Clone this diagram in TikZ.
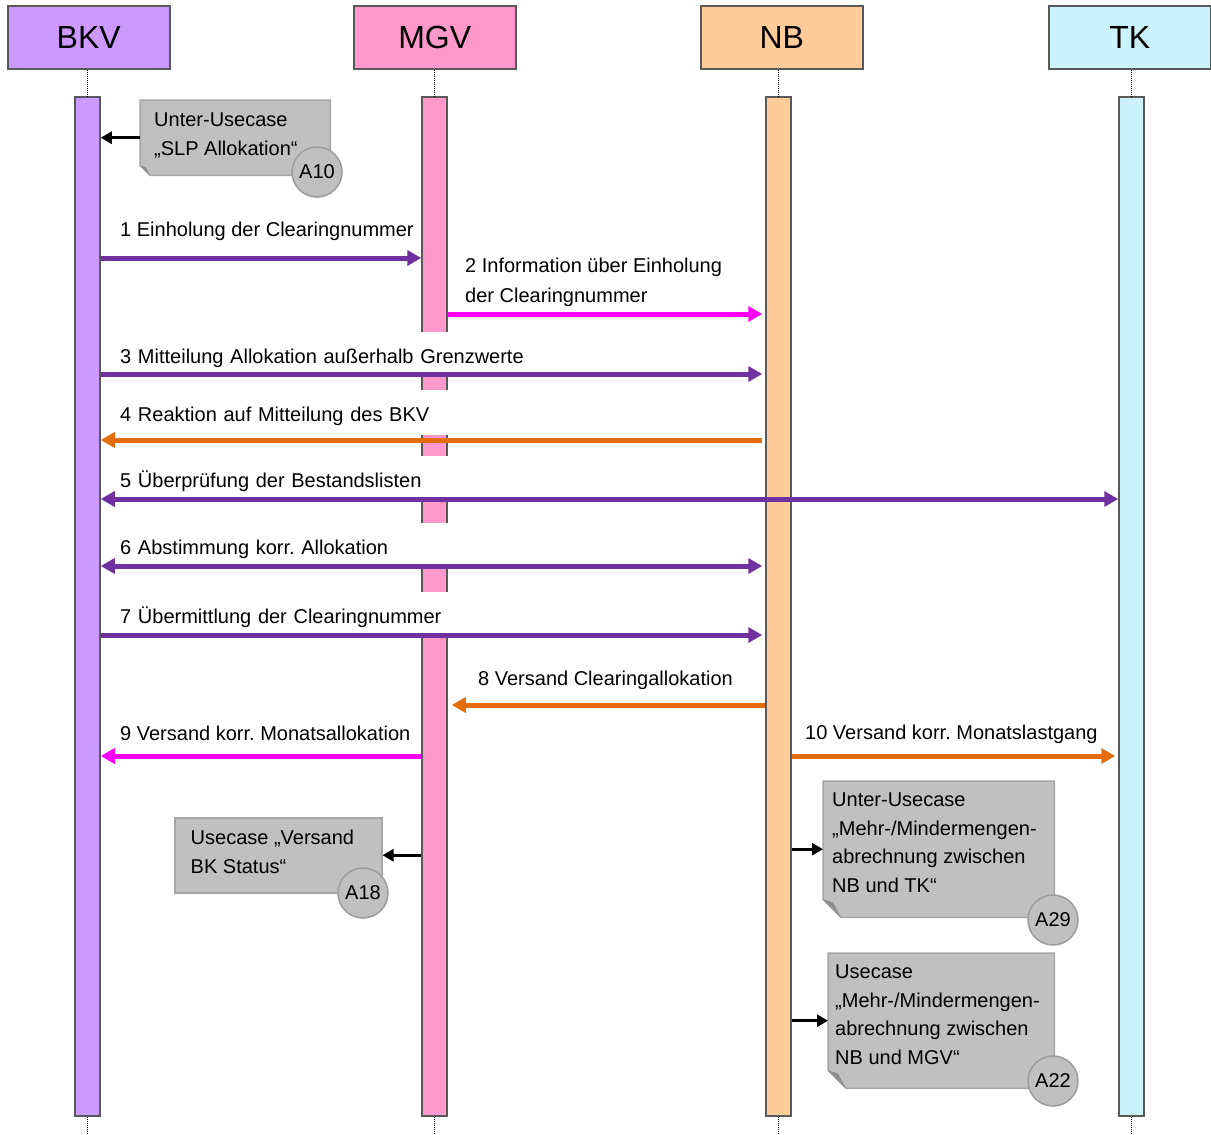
\documentclass[tikz,border=0pt]{standalone}
\usepackage{fontspec}
\setmainfont{Liberation Sans}
\frenchspacing
\usetikzlibrary{arrows.meta,calc}
\definecolor{bkvc}{HTML}{CC99FF}
\definecolor{mgvc}{HTML}{FF99CC}
\definecolor{nbc}{HTML}{FFCC99}
\definecolor{tkc}{HTML}{CCF3FC}
\definecolor{edgec}{HTML}{595959}
\definecolor{purp}{HTML}{7030A0}
\definecolor{magc}{HTML}{FF00FF}
\definecolor{orac}{HTML}{E46C0A}
\definecolor{boxfill}{HTML}{C0C0C0}
\definecolor{boxline}{HTML}{A6A6A6}
\definecolor{circline}{HTML}{9C9C9C}
\definecolor{folddark}{HTML}{8E8E8E}
\begin{document}
\begin{tikzpicture}[x=1pt,y=-1pt,
  headbox/.style={draw=edgec, line width=1.5pt, minimum width=162pt, minimum height=63pt, inner sep=0pt, anchor=north west, font=\fontsize{32}{38}\selectfont},
  actbar/.style={draw=edgec, line width=1.5pt, minimum width=25pt, minimum height=1019pt, inner sep=0pt, anchor=north},
  lifeline/.style={black, line width=1pt, dash pattern=on 1pt off 1pt},
  msg/.style={line width=5pt, -{Triangle[length=14pt,width=15pt]}},
  dmsg/.style={line width=5pt, {Triangle[length=14pt,width=15pt]}-{Triangle[length=14pt,width=15pt]}},
  lbl/.style={font=\fontsize{20}{30}\selectfont, anchor=base west, inner sep=0pt, align=left},
  wlbl/.style={fill=white, font=\fontsize{20}{24}\selectfont, anchor=west, text width=600pt, minimum height=45pt, text height=19pt, text depth=1pt, inner xsep=10pt, inner ysep=0pt, align=left},
  boxph/.style={minimum width=#1, inner sep=0pt, anchor=north west},
  ucbox/.style={fill=boxfill, draw=boxline, line width=1.5pt},
  boxtxt/.style={font=\fontsize{20}{28.5}\selectfont, anchor=base west, inner sep=0pt, align=left},
  circ/.style={circle, draw=circline, fill=boxfill, line width=1.5pt, minimum size=50pt, inner sep=0pt, font=\fontsize{20}{24}\selectfont},
  callarrow/.style={black, line width=3pt, -{Triangle[length=11pt,width=12pt]}}
]
\useasboundingbox (0,0) rectangle (1211,1135);

% heads
\node[headbox, fill=bkvc] (bkvhead) at (7,5) {BKV};
\node[headbox, fill=mgvc] (mgvhead) at (353,5) {MGV};
\node[headbox, fill=nbc] (nbhead) at (700,5) {NB};
\node[headbox, fill=tkc] (tkhead) at (1048,5) {TK};

% activation bars
\node[actbar, fill=bkvc] (bkvbar) at (87.5,96) {};
\node[actbar, fill=mgvc] (mgvbar) at (434.5,96) {};
\node[actbar, fill=nbc] (nbbar) at (778.5,96) {};
\node[actbar, fill=tkc] (tkbar) at (1131.5,96) {};

% lifelines
\foreach \n in {bkv,mgv,nb,tk}{
  \draw[lifeline] (\n bar.north |- \n head.south) -- (\n bar.north);
  \draw[lifeline] (\n bar.south) -- ++(0,20);
}

% labels
\node[lbl] (l1) at (120,236) {1 Einholung der Clearingnummer};
\node[lbl] (l2) at (465,302) {2 Information über Einholung\\der Clearingnummer};
\node[wlbl] (l3) at (110,354) {3 Mitteilung Allokation außerhalb Grenzwerte};
\node[wlbl] (l4) at (110,412) {4 Reaktion auf Mitteilung des BKV};
\node[wlbl] (l5) at (110,478) {5 Überprüfung der Bestandslisten};
\node[wlbl] (l6) at (110,545) {6 Abstimmung korr. Allokation};
\node[wlbl] (l7) at (110,614) {7 Übermittlung der Clearingnummer};
\node[lbl] (l8) at (478,685) {8 Versand Clearingallokation};
\node[lbl] (l9) at (120,740) {9 Versand korr. Monatsallokation};
\node[lbl] (l10) at (805,739) {10 Versand korr. Monatslastgang};

% messages
\draw[msg, purp] (bkvbar.east |- 0,258) -- (mgvbar.west |- 0,258);
\draw[msg, magc, shorten >=3pt] (mgvbar.east |- 0,314) -- (nbbar.west |- 0,314);
\draw[msg, purp, shorten >=3pt] (bkvbar.east |- 0,374) -- (nbbar.west |- 0,374);
\draw[msg, orac, shorten <=3pt] (nbbar.west |- 0,440) -- (bkvbar.east |- 0,440);
\draw[dmsg, purp] (bkvbar.east |- 0,499) -- (tkbar.west |- 0,499);
\draw[dmsg, purp, shorten >=3pt] (bkvbar.east |- 0,566) -- (nbbar.west |- 0,566);
\draw[msg, purp, shorten >=3pt] (bkvbar.east |- 0,635) -- (nbbar.west |- 0,635);
\draw[msg, orac, shorten >=4pt] (nbbar.west |- 0,705) -- (mgvbar.east |- 0,705);
\draw[msg, magc] (mgvbar.west |- 0,756) -- (bkvbar.east |- 0,756);
\draw[msg, orac, shorten >=3pt] (nbbar.east |- 0,756) -- (tkbar.west |- 0,756);

% A10 box
\node[boxph=190pt, minimum height=75pt] (a10) at (140,100) {};
\draw[ucbox] (a10.north west) -- (a10.north east) -- (a10.south east) -- ([xshift=10pt]a10.south west) -- ([yshift=10pt]a10.south west) -- cycle;
\fill[folddark] ([yshift=10pt]a10.south west) -- ([xshift=10pt]a10.south west) -- ([xshift=5.5pt,yshift=8.3pt]a10.south west) -- cycle;
\node[boxtxt] (a10t) at (154,155) {Unter-Usecase\\„SLP Allokation“};
\node[circ] (a10c) at (317,172) {A10};
\draw[callarrow] (a10.west) -- (bkvbar.east |- a10.west);

% A18 box
\node[boxph=207pt, minimum height=75pt, ucbox] (a18) at (174,817) {};
\node[boxtxt] (a18t) at (190.5,873) {Usecase „Versand\\BK Status“};
\node[circ] (a18c) at (363,893) {A18};
\draw[callarrow] (mgvbar.west |- a18.east) -- (a18.east);

% A29 box
\node[boxph=231pt, minimum height=136pt] (a29) at (823,781) {};
\draw[ucbox] (a29.north west) -- (a29.north east) -- (a29.south east) -- ([xshift=18pt]a29.south west) -- ([yshift=18pt]a29.south west) -- cycle;
\fill[folddark] ([yshift=18pt]a29.south west) -- ([xshift=18pt]a29.south west) -- ([xshift=10pt,yshift=15pt]a29.south west) -- cycle;
\node[boxtxt] (a29t) at (832,892) {Unter-Usecase\\„Mehr-/Mindermengen-\\abrechnung zwischen\\NB und TK“};
\node[circ] (a29c) at (1053,920) {A29};
\draw[callarrow] (nbbar.east |- a29.west) -- (a29.west);

% A22 box
\node[boxph=226pt, minimum height=135pt] (a22) at (828,953) {};
\draw[ucbox] (a22.north west) -- (a22.north east) -- (a22.south east) -- ([xshift=18pt]a22.south west) -- ([yshift=18pt]a22.south west) -- cycle;
\fill[folddark] ([yshift=18pt]a22.south west) -- ([xshift=18pt]a22.south west) -- ([xshift=10pt,yshift=15pt]a22.south west) -- cycle;
\node[boxtxt] (a22t) at (835,1064) {Usecase\\„Mehr-/Mindermengen-\\abrechnung zwischen\\NB und MGV“};
\node[circ] (a22c) at (1053,1081) {A22};
\draw[callarrow] (nbbar.east |- a22.west) -- (a22.west);
\end{tikzpicture}
\end{document}
